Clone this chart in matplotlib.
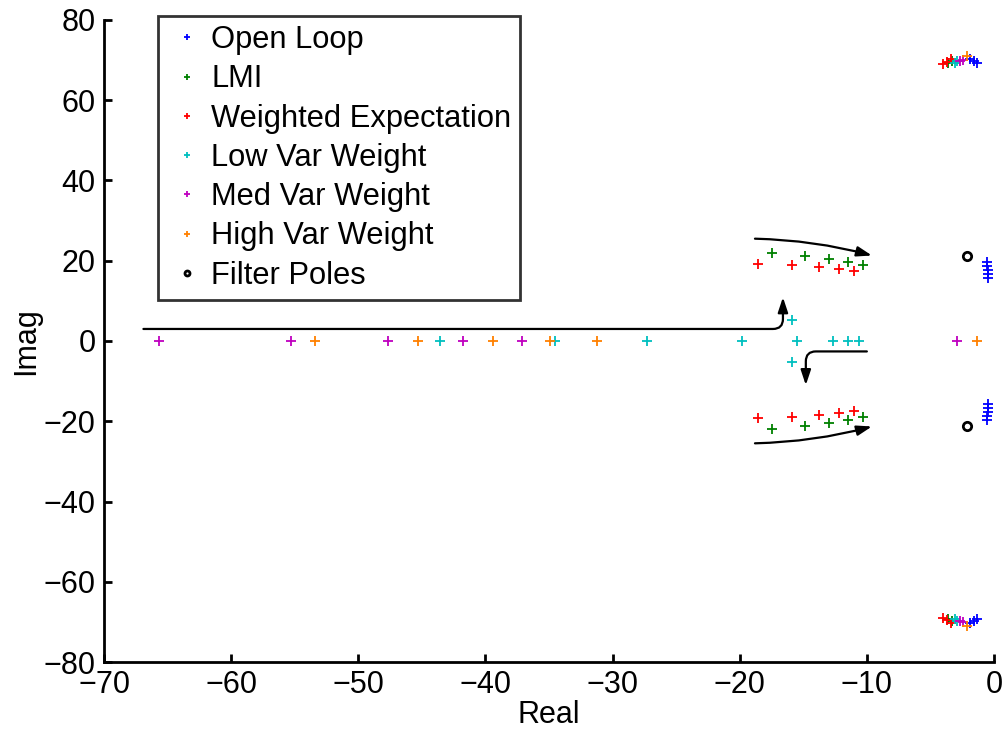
import matplotlib
matplotlib.use("Agg")
import matplotlib.pyplot as plt

plt.rcParams['font.family'] = ['Liberation Sans', 'DejaVu Sans']

# Pole locations (real part, imaginary part); conjugate poles are mirrored below
open_loop_re = [-1.9, -1.6, -1.3, -0.55, -0.55, -0.5, -0.5, -0.5]
open_loop_im = [70.3, 69.7, 69.2, 19.6, 18.6, 17.6, 16.6, 15.6]

lmi_re = [-17.5, -14.9, -13.0, -11.5, -10.3, -3.6, -3.3]
lmi_im = [21.9, 21.2, 20.4, 19.6, 18.9, 69.4, 69.9]

weighted_re = [-18.6, -15.9, -13.8, -12.2, -11.0, -4.0, -3.7, -3.4]
weighted_im = [19.2, 18.9, 18.4, 17.9, 17.4, 69.0, 69.6, 70.3]

low_var_re = [-43.6, -34.5, -27.3, -19.8, -15.5, -12.7, -11.5, -10.65, -15.9, -3.1, -2.9]
low_var_im = [0.0, 0.0, 0.0, 0.0, 0.0, 0.0, 0.0, 0.0, 5.2, 69.4, 69.8]

med_var_re = [-65.7, -55.3, -47.7, -41.8, -37.1, -2.9, -2.7, -2.4]
med_var_im = [0.0, 0.0, 0.0, 0.0, 0.0, 0.0, 69.9, 70.1]

high_var_re = [-53.4, -45.3, -39.4, -34.9, -31.2, -1.35, -2.1]
high_var_im = [0.0, 0.0, 0.0, 0.0, 0.0, 0.0, 71.0]

filter_re = [-2.15]
filter_im = [21.3]

labels = ["Open Loop", "LMI", "Weighted Expectation", "Low Var Weight",
          "Med Var Weight", "High Var Weight", "Filter Poles"]
colors = ["#0000ff", "#008000", "#ff0000", "#00bfbf", "#bf00bf", "#ff8000", "black"]


def with_conjugates(re, im):
    xs, ys = list(re), list(im)
    for r, i in zip(re, im):
        if i != 0:
            xs.append(r)
            ys.append(-i)
    return xs, ys


series = [
    (open_loop_re, open_loop_im),
    (lmi_re, lmi_im),
    (weighted_re, weighted_im),
    (low_var_re, low_var_im),
    (med_var_re, med_var_im),
    (high_var_re, high_var_im),
]

fig = plt.figure(figsize=(10.05, 7.30), dpi=100)
ax = fig.add_axes([104 / 1005, 68 / 730, 890 / 1005, 642 / 730])

handles = []
for (re, im), lab, col in zip(series, labels[:6], colors[:6]):
    xs, ys = with_conjugates(re, im)
    h, = ax.plot(xs, ys, linestyle="none", marker="+", markersize=7,
                 markeredgewidth=1.3, color=col, label=lab, clip_on=False)
    handles.append(h)

fx, fy = with_conjugates(filter_re, filter_im)
h, = ax.plot(fx, fy, linestyle="none", marker="o", markersize=6,
             markeredgewidth=2, markerfacecolor="none", markeredgecolor="black",
             label=labels[6], clip_on=False)
handles.append(h)

# Trajectory arrows
arrow_kw = dict(arrowstyle="-|>,head_length=0.6,head_width=0.2",
                mutation_scale=15, color="black", lw=1.6, shrinkA=0, shrinkB=0)
ax.annotate("", xy=(-16.6, 10.9), xytext=(-66.9, 3.0),
            arrowprops=dict(connectionstyle="angle,angleA=0,angleB=90,rad=10", **arrow_kw))
ax.annotate("", xy=(-14.8, -11.0), xytext=(-10.0, -2.6),
            arrowprops=dict(connectionstyle="angle,angleA=0,angleB=90,rad=10", **arrow_kw))
ax.annotate("", xy=(-9.6, 21.3), xytext=(-18.8, 25.5),
            arrowprops=dict(connectionstyle="arc3,rad=-0.06", **arrow_kw))
ax.annotate("", xy=(-9.6, -21.3), xytext=(-18.8, -25.5),
            arrowprops=dict(connectionstyle="arc3,rad=0.06", **arrow_kw))

ax.set_xlim(-70, 0)
ax.set_ylim(-80, 80)
ax.set_xticks(range(-70, 1, 10))
ax.set_yticks(range(-80, 81, 20))
for side in ("top", "right"):
    ax.spines[side].set_visible(False)
for side in ("left", "bottom"):
    ax.spines[side].set_linewidth(2)
ax.tick_params(direction="in", length=6, width=2, labelsize=22, pad=6,
               top=False, right=False)
ax.set_xlabel("Real", fontsize=22, labelpad=0)
ax.set_ylabel("Imag", fontsize=22, labelpad=2)

leg = ax.legend(handles=handles, loc="upper left",
                bbox_to_anchor=(54 / 890, 1 + 4 / 642), borderaxespad=0,
                fontsize=22.2, frameon=True, fancybox=False, edgecolor="black",
                labelspacing=0.3, handlelength=1.3, handletextpad=0.12,
                borderpad=0.3, markerscale=0.6)
leg.get_frame().set_linewidth(2)

fig.savefig("out.png", dpi=100)
